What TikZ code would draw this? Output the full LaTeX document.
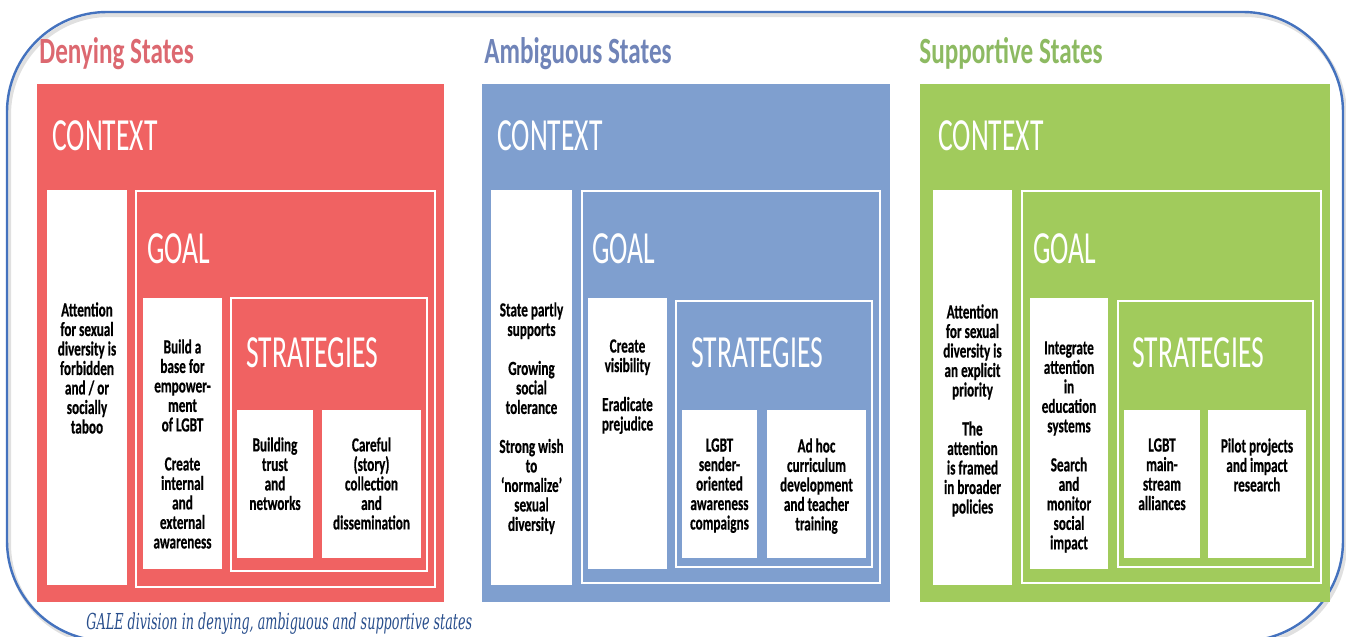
\documentclass[tikz,border=0pt]{standalone}
\usepackage{fontspec}
\setmainfont{Carlito}
\newfontfamily\boxfont{Carlito}[FakeStretch=0.66,BoldFeatures={FakeBold=0.5}]
\newfontfamily\titlefont{Carlito}[FakeStretch=0.68]
\newfontfamily\headfont{Carlito}[FakeStretch=0.6]
\newfontfamily\captionfont{DejaVu Serif}[FakeStretch=0.58]
\definecolor{denyred}{RGB}{240,98,98}
\definecolor{ambblue}{RGB}{127,159,207}
\definecolor{supgreen}{RGB}{161,203,92}
\definecolor{denytitle}{RGB}{220,104,112}
\definecolor{ambtitle}{RGB}{112,132,184}
\definecolor{suptitle}{RGB}{141,186,98}
\definecolor{framblue}{RGB}{68,114,190}
\definecolor{capblue}{RGB}{40,78,140}

\begin{document}
\begin{tikzpicture}[x=0.5pt,y=-0.5pt,
	statetitle/.style={anchor=base west,inner sep=0,font=\titlefont\bfseries\fontsize{18.5}{18.5}\selectfont},
	headlabel/.style={anchor=base west,inner sep=0,text=white,font=\headfont\fontsize{23}{23}\selectfont},
	boxtext/.style={anchor=north,inner sep=0,align=center,font=\boxfont\bfseries\fontsize{10}{9.75}\selectfont},
	whiteframe/.style={draw=white,line width=1.4pt}]
	\useasboundingbox (0,0) rectangle (1346,637);
	\clip (0,0) rectangle (1346,637);
	\draw[black!12,line width=2pt,rounded corners=50pt] (9,15) rectangle (1345,644);%shadow
	\draw[framblue,line width=1.2pt,rounded corners=50pt] (7,12) rectangle (1343,641);%frame
	% denying
	\fill[denyred] (37,84) rectangle (444,602);
	\fill[white] (47,190) rectangle (127,585);
	\draw[whiteframe] (136,191) rectangle (435,587);
	\fill[white] (143,298) rectangle (222,569);
	\draw[whiteframe] (231,298) rectangle (427,571);
	\fill[white] (237,410) rectangle (313,558);
	\fill[white] (322,410) rectangle (421,558);
	\node[statetitle,text=denytitle] (denytitle) at (39,63){Denying States};
	\node[headlabel] (denyctx) at (52,150){CONTEXT};
	\node[headlabel] (denygoal) at (147,263){GOAL};
	\node[headlabel] (denystrat) at (246,367){STRATEGIES};
	\node[boxtext] (denyctxtext) at (87,302){Attention\\for sexual\\diversity is\\forbidden\\and / or\\socially\\taboo};
	\node[boxtext] (denygoaltext) at (182.5,339){Build a\\base for\\empower-\\ment\\of LGBT\\[9.75pt]Create\\internal\\and\\external\\awareness};
	\node[boxtext] (denystrata) at (275,437){Building\\trust\\and\\networks};
	\node[boxtext] (denystratb) at (371.5,437){Careful\\(story)\\collection\\and\\dissemination};
	% ambiguous
	\fill[ambblue] (482,84) rectangle (890,602);
	\fill[white] (491,190) rectangle (572,585);
	\draw[whiteframe] (582,191) rectangle (880,583);
	\fill[white] (588,298) rectangle (667,569);
	\draw[whiteframe] (676,301) rectangle (872,567);
	\fill[white] (682,410) rectangle (757,558);
	\fill[white] (767,410) rectangle (866,558);
	\node[statetitle,text=ambtitle] (ambtitle) at (484,63){Ambiguous States};
	\node[headlabel] (ambctx) at (497,150){CONTEXT};
	\node[headlabel] (ambgoal) at (592,263){GOAL};
	\node[headlabel] (ambstrat) at (691,367){STRATEGIES};
	\node[boxtext] (ambctxtext) at (531.5,302){State partly\\supports\\[9.75pt]Growing\\social\\tolerance\\[9.75pt]Strong wish\\to\\‘normalize’\\sexual\\diversity};
	\node[boxtext] (ambgoaltext) at (627.5,339){Create\\visibility\\[9.75pt]Eradicate\\prejudice};
	\node[boxtext] (ambstrata) at (719.5,438){LGBT\\sender-\\oriented\\awareness\\compaigns};
	\node[boxtext] (ambstratb) at (816.5,438){Ad hoc\\curriculum\\development\\and teacher\\training};
	% supportive
	\fill[supgreen] (920,84) rectangle (1330,602);
	\fill[white] (933,190) rectangle (1012,585);
	\draw[whiteframe] (1022,191) rectangle (1321,583);
	\fill[white] (1030,298) rectangle (1108,569);
	\draw[whiteframe] (1118,301) rectangle (1313,567);
	\fill[white] (1124,410) rectangle (1200,558);
	\fill[white] (1208,410) rectangle (1306,558);
	\node[statetitle,text=suptitle] (suptitle) at (919,63){Supportive States};
	\node[headlabel] (supctx) at (938,150){CONTEXT};
	\node[headlabel] (supgoal) at (1033,263){GOAL};
	\node[headlabel] (supstrat) at (1132,367){STRATEGIES};
	\node[boxtext] (supctxtext) at (972.5,304){Attention\\for sexual\\diversity is\\an explicit\\priority\\[9.75pt]The\\attention\\is framed\\in broader\\policies};
	\node[boxtext] (supgoaltext) at (1069,341){Integrate\\attention\\in\\education\\systems\\[9.75pt]Search\\and\\monitor\\social\\impact};
	\node[boxtext] (supstrata) at (1162,438){LGBT\\main-\\stream\\alliances};
	\node[boxtext] (supstratb) at (1257,438){Pilot projects\\and impact\\research};
	% caption
	\node[anchor=base west,inner sep=0,text=capblue,font=\captionfont\itshape\fontsize{11}{12}\selectfont] (caption) at (86,629){GALE division in denying, ambiguous and supportive states};
\end{tikzpicture}
\end{document}
